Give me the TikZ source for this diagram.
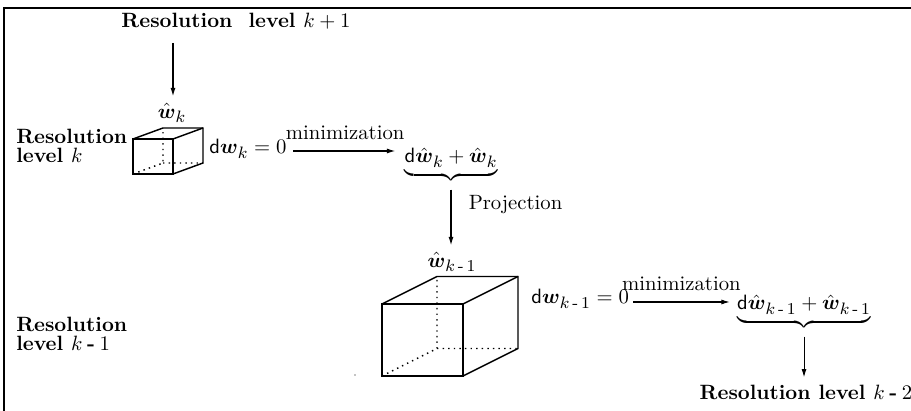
\documentclass[tikz,border=0pt]{standalone}
\usepackage{amsmath}
\usepackage{amssymb}
\usetikzlibrary{arrows.meta,calc,positioning}

\DeclareMathSizes{10}{10}{8}{6}
\newcommand{\hatw}{\hat{\boldsymbol{w}}}
\newcommand{\bfw}{\boldsymbol{w}}
\newcommand{\lminus}{\mathbin{\text{-}}}
\newcommand{\km}{k\,\text{-}\,1}

\begin{document}
\begin{tikzpicture}[x=0.1698cm,y=0.1698cm,
    arr/.style={-{Latex[length=4pt,width=2.4pt]}, line width=0.5pt},
    lvl/.style={font=\bfseries},
    edge/.style={line width=0.7pt},
    hidden/.style={dotted, line width=0.7pt}]
    \useasboundingbox (0,0) rectangle (91.1,41.1);
    \draw[line width=1pt] (0.4,0) -- (0.4,40.3) -- (91.1,40.3);

    % level k
    \node[lvl] (lvlA) at (23.6,39.0) {Resolution\hspace{4pt} level $k+1$};
    \coordinate (inA) at (17.3,36.8);
    \node (hatk) at (17.2,29.8) {$\hatw_k$};
    \draw[arr] (inA) -- (inA |- hatk.north);
    \coordinate (a1) at (13.3,23.7);
    \draw[edge] (a1) rectangle ++(4,3.5);
    \draw[edge] ($(a1)+(0,3.5)$) -- ++(3,1.1) -- ++(4,0) -- ++(0,-3.5) -- ++(-3,-1.1);
    \draw[edge] ($(a1)+(4,3.5)$) -- ++(3,1.1);
    \draw[hidden] (a1) -- ++(3,1.1) coordinate (a2) -- ++(0,3.5) (a2) -- ++(4,0);
    \node[lvl, anchor=west, align=left] (lvlB) at (0.9,26.5) {Resolution\\[-3pt]level $k$};
    \node[anchor=base west] (dwk) at (20.2,25.7) {$\mathsf{d}\bfw_k=0$};
    \node[anchor=base] (sumk) at (45.1,24.8) {$\underbrace{\mathsf{d}\hatw_k+\hatw_k}$};
    \coordinate (mA) at (29.3,26.0);
    \draw[arr, shorten >=1pt] (mA) -- node[above, yshift=2pt]{minimization} (mA -| sumk.west);
    \node (hatkm) at (45.2,14.9) {$\hatw_{\km}$};
    \draw[arr] (sumk.south) -- node[pos=0.27, right=5pt]{Projection} (sumk.south |- hatkm.north);

    % level k-1
    \coordinate (b1) at (38.2,3.5);
    \draw[edge] (b1) rectangle ++(8.1,7.2);
    \draw[edge] ($(b1)+(0,7.2)$) -- ++(5.5,2.75) -- ++(8.1,0) -- ++(0,-7.2) -- ++(-5.5,-2.75);
    \draw[edge] ($(b1)+(8.1,7.2)$) -- ++(5.5,2.75);
    \draw[hidden] (b1) -- ++(5.5,2.75) coordinate (b2) -- ++(0,7.2) (b2) -- ++(8.1,0);
    \fill (35.5,3.6) circle (0.35pt);
    \node[lvl, anchor=west, align=left] (lvlD) at (0.9,7.7) {Resolution\\[-3pt]level $k\lminus1$};
    \node[anchor=base west] (dwkm) at (52.4,10.7) {$\mathsf{d}\bfw_{\km}=0$};
    \node[anchor=base] (sumkm) at (80.4,10.1) {$\underbrace{\mathsf{d}\hatw_{\km}+\hatw_{\km}}$};
    \coordinate (mB) at (63.3,10.9);
    \draw[arr] (mB) -- node[above, yshift=2pt]{minimization} (mB -| sumkm.west);
    \node[lvl] (lvlC) at (80.6,1.9) {Resolution level $k\lminus2$};
    \draw[arr] (sumkm.south) -- (sumkm.south |- lvlC.north);
\end{tikzpicture}
\end{document}
